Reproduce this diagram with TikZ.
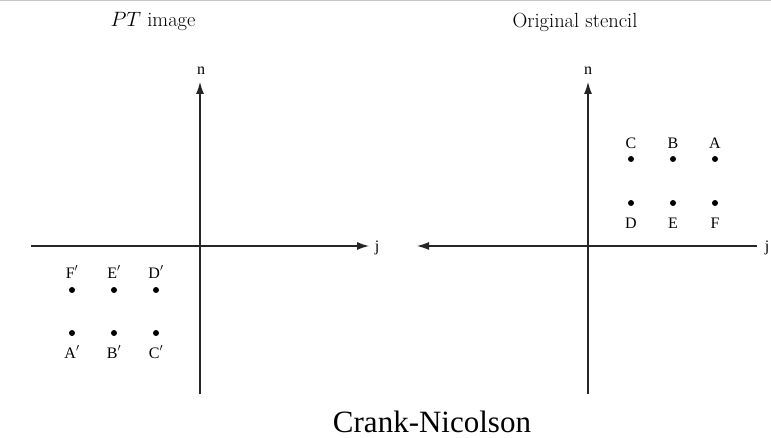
\documentclass[tikz,border=0pt]{standalone}
\usepackage{fontspec}
\newfontfamily\tms{Liberation Serif}
\usetikzlibrary{arrows.meta}
\begin{document}
\begin{tikzpicture}[x=1pt,y=-1pt,
  axis/.style={line width=1.1pt,black!85},
  tip/.style={-{Latex[length=12pt,width=8pt]}},
  pt/.style={circle,fill=black,inner sep=0pt,minimum size=6pt},
  lab/.style={font=\tms\fontsize{16}{19}\selectfont,inner sep=0pt},
  ttl/.style={font=\fontsize{20.5}{24}\selectfont,inner sep=0pt}]
\useasboundingbox (0,0) rectangle (771,438);
\fill[black!22] (0,0) rectangle (771,1.5);
% titles
\node[ttl] (t1) at (153,22) {$PT$ image};
\node[ttl] (t2) at (575,22) {Original stencil};
% left axes
\coordinate (lh0) at (31,246);
\coordinate (lh1) at (369,246);
\coordinate (lv0) at (200,394);
\coordinate (lv1) at (200,82);
\draw[axis,tip] (lh0) -- (lh1);
\draw[axis,tip] (lv0) -- (lv1);
\node[lab] (ln) at (201,71) {n};
\node[lab] (lj) at (377,248) {j};
% left dots
\foreach \x/\n/\m [count=\i] in {72/F/A,114/E/B,156/D/C}{
  \node[pt] (lu\i) at (\x,290) {};
  \node[pt] (ld\i) at (\x,333) {};
  \node[lab] at (\x,272) {\n$'$};
  \node[lab] at (\x,352) {\m$'$};
}
% right axes
\coordinate (rh0) at (757,246);
\coordinate (rh1) at (417,246);
\coordinate (rv0) at (588,394);
\coordinate (rv1) at (588,82);
\draw[axis,tip] (rh0) -- (rh1);
\draw[axis,tip] (rv0) -- (rv1);
\node[lab] (rn) at (588,71) {n};
\node[lab] (rj) at (767,248) {j};
\foreach \x/\n/\m [count=\i] in {631/C/D,673/B/E,715/A/F}{
  \node[pt] (ru\i) at (\x,159) {};
  \node[pt] (rd\i) at (\x,203) {};
  \node[lab] at (\x,143) {\n};
  \node[lab] at (\x,223) {\m};
}
\node[font=\tms\fontsize{31}{36}\selectfont,inner sep=0pt,anchor=base] (cap) at (432,432) {Crank-Nicolson};
\end{tikzpicture}
\end{document}
